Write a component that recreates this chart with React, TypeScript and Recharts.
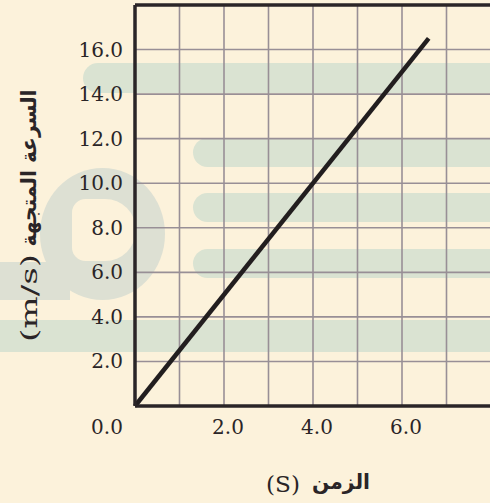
import React from 'react';
import { LineChart, Line, XAxis, YAxis, CartesianGrid, Label, ReferenceLine } from 'recharts';

// ---- data ----
const timeValues = [0, 6.6];
const velocityValues = [0, 16.5];
const xGridTicks = [0, 1, 2, 3, 4, 5, 6, 7, 8];
const xTickLabels = [0, 2, 4, 6];
const yGridTicks = [0, 2, 4, 6, 8, 10, 12, 14, 16, 18];
const yTickLabels = [2, 4, 6, 8, 10, 12, 14, 16];
const xTitleArabic = 'الزمن';
const xTitleUnit = '(S)';
const yTitleArabic = 'السرعة المتجهة';
const yTitleUnit = '(m/s)';

const chartData = timeValues.map((t, i) => ({ t, v: velocityValues[i] }));

const INK = '#2a2527';
const GRID = '#988f96';
const CREAM = '#fcf2db';
const SAGE = '#dae3d2';
const RING = '#dde0d3';
const SERIF = '"DejaVu Serif", serif';
const ARABIC = '"DejaVu Sans", sans-serif';

const XTick = (props: any) => {
  const { x, y, payload } = props;
  const v = payload.value;
  if (!xTickLabels.includes(v)) return <g />;
  const dx = v === 0 ? -28 : 4;
  return (
    <text x={x + dx} y={y + 21} textAnchor="middle" dominantBaseline="central" fontFamily={SERIF} fontSize={20} fill={INK}>
      {v.toFixed(1)}
    </text>
  );
};

const YTick = (props: any) => {
  const { x, y, payload } = props;
  const v = payload.value;
  if (!yTickLabels.includes(v)) return <g />;
  return (
    <text x={x} y={y} textAnchor="end" dominantBaseline="central" fontFamily={SERIF} fontSize={20} fill={INK}>
      {v.toFixed(1)}
    </text>
  );
};

const YTitle = (props: any) => {
  const vb = props.viewBox || { x: 0, y: 5, width: 135, height: 401 };
  const cx = vb.x + 29;
  const arabicCenter = vb.y + 163;
  const unitCenter = vb.y + 293;
  return (
    <g>
      <text
        x={cx}
        y={arabicCenter}
        transform={`rotate(-90 ${cx} ${arabicCenter})`}
        textAnchor="middle"
        dominantBaseline="central"
        fontFamily={ARABIC}
        fontWeight="bold"
        fontSize={21}
        fill={INK}
        textLength={157}
        lengthAdjust="spacingAndGlyphs"
      >
        {yTitleArabic}
      </text>
      <text
        x={cx}
        y={unitCenter}
        transform={`rotate(-90 ${cx} ${unitCenter})`}
        textAnchor="middle"
        dominantBaseline="central"
        fontFamily={SERIF}
        fontSize={22}
        fill={INK}
        textLength={88}
        lengthAdjust="spacingAndGlyphs"
      >
        {yTitleUnit}
      </text>
    </g>
  );
};

const XTitle = (props: any) => {
  const vb = props.viewBox || { x: 135, y: 406, width: 356, height: 97 };
  const cy = vb.y + 78;
  return (
    <g>
      <text x={vb.x + 148} y={cy} textAnchor="middle" dominantBaseline="central" fontFamily={SERIF} fontSize={22} fill={INK}
        textLength={34} lengthAdjust="spacingAndGlyphs">
        {xTitleUnit}
      </text>
      <text x={vb.x + 206} y={cy - 2} textAnchor="middle" dominantBaseline="central" fontFamily={ARABIC} fontWeight="bold" fontSize={21} fill={INK}
        textLength={58} lengthAdjust="spacingAndGlyphs">
        {xTitleArabic}
      </text>
    </g>
  );
};

const band = (left: number, top: number, bottom: number): React.CSSProperties => ({
  position: 'absolute',
  left,
  top,
  width: 560 - left,
  height: bottom - top,
  background: SAGE,
  borderRadius: (bottom - top) / 2,
});

export default function App() {
  return (
    <div style={{ position: 'absolute', top: 0, left: 0, width: 490, height: 503, overflow: 'hidden', background: CREAM }}>
      {/* faint watermark behind the chart */}
      <div style={{ position: 'absolute', left: 40, top: 168, width: 125, height: 132, borderRadius: '50%', background: RING }} />
      <div style={{ position: 'absolute', left: -20, top: 262, width: 90, height: 38, background: RING }} />
      <div style={{ position: 'absolute', left: 72, top: 199, width: 64, height: 62, borderRadius: '14px 32px 32px 14px', background: CREAM }} />
      <div style={band(83, 63, 93)} />
      <div style={band(193, 138, 167)} />
      <div style={band(193, 193, 222)} />
      <div style={band(193, 249, 278)} />
      <div style={band(-30, 320, 352)} />
      <div style={{ position: 'absolute', left: 0, top: 0 }}>
        <LineChart width={492} height={503} data={chartData} margin={{ top: 5, right: 1, bottom: 0, left: 0 }}>
          <CartesianGrid stroke={GRID} strokeWidth={1.6} fill="none" />
          <XAxis
            dataKey="t"
            type="number"
            domain={[0, 8]}
            ticks={xGridTicks}
            interval={0}
            height={97}
            tick={<XTick />}
            tickLine={false}
            tickSize={0}
            tickMargin={0}
            axisLine={{ stroke: INK, strokeWidth: 3.5 }}
          >
            <Label content={XTitle} />
          </XAxis>
          <YAxis
            type="number"
            domain={[0, 18]}
            ticks={yGridTicks}
            interval={0}
            width={135}
            tick={<YTick />}
            tickLine={false}
            tickSize={0}
            tickMargin={12}
            axisLine={{ stroke: INK, strokeWidth: 3.5 }}
          >
            <Label content={YTitle} />
          </YAxis>
          <ReferenceLine y={18} stroke={INK} strokeWidth={3.5} ifOverflow="visible" />
          <Line dataKey="v" type="linear" stroke="#221e1f" strokeWidth={4.5} dot={false} isAnimationActive={false} />
        </LineChart>
      </div>
    </div>
  );
}
